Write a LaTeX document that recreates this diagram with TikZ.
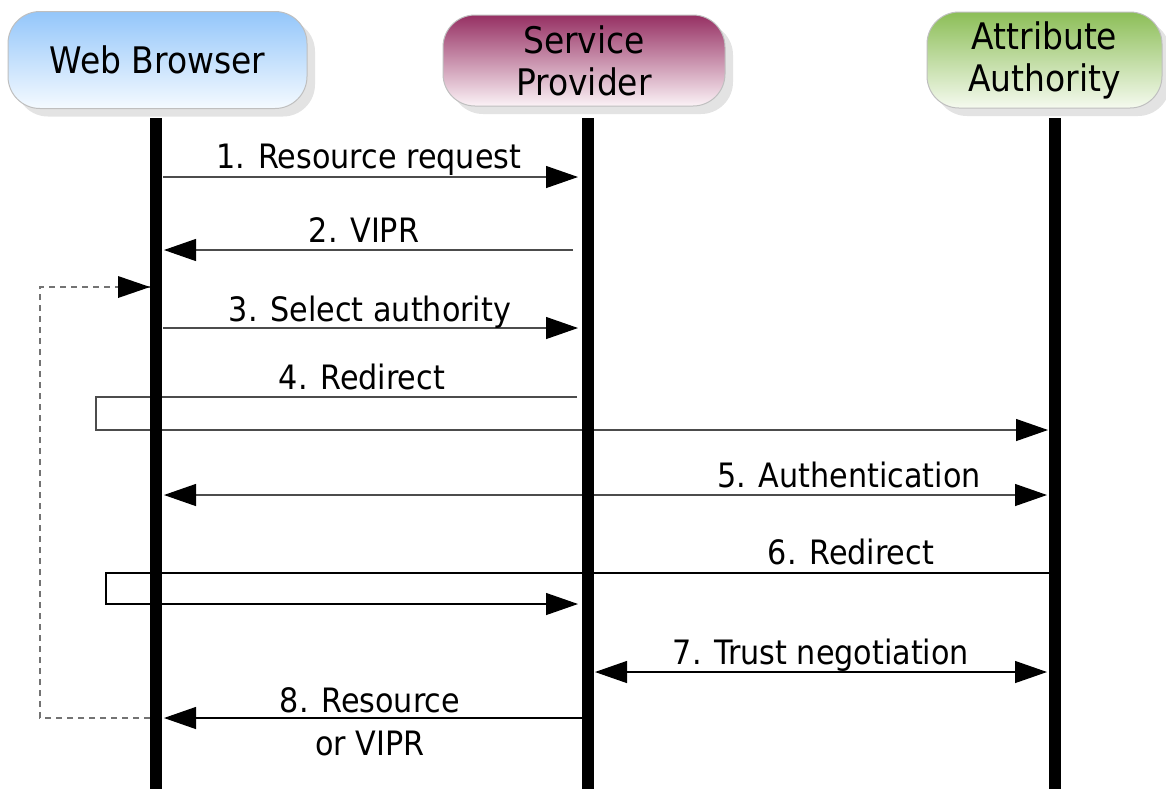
\documentclass[tikz,border=0pt]{standalone}
\usepackage{fontspec}
\setmainfont{DejaVu Sans Condensed}
\usetikzlibrary{arrows.meta,shadows}

\definecolor{wbtop}{HTML}{93C6FA}
\definecolor{wbbot}{HTML}{F5FAFF}
\definecolor{sptop}{HTML}{963063}
\definecolor{spbot}{HTML}{FBF2F6}
\definecolor{aatop}{HTML}{8CBE57}
\definecolor{aabot}{HTML}{F5FAEF}

\tikzset{
  actor/.style={rounded corners=16pt, draw=black!25, line width=0.5pt, align=center,
    font=\fontsize{18.3}{21}\selectfont,
    drop shadow={shadow xshift=4pt, shadow yshift=-4pt, fill=black!11, opacity=1}},
  lifeline/.style={line width=6pt},
  msg/.style={draw=black!70, line width=0.6pt, -{Triangle[length=16pt,width=11pt,color=black]}},
  twoway/.style={draw=black!70, line width=0.6pt, {Triangle[length=16pt,width=11pt,color=black]}-{Triangle[length=16pt,width=11pt,color=black]}},
  loopback/.style={draw=black!55, line width=0.6pt, dash pattern=on 3pt off 2.5pt},
  lbl/.style={anchor=base, inner sep=0pt, font=\fontsize{16.8}{21.5}\selectfont}
}

\begin{document}
\begin{tikzpicture}[x=0.5pt, y=-0.5pt]
\useasboundingbox (0,0) rectangle (1166,789);

% participants
\node[actor, top color=wbtop, bottom color=wbbot, minimum width=149.5pt, minimum height=48.5pt] (wb) at (157.5,60) {Web Browser};
\node[actor, top color=sptop, bottom color=spbot, minimum width=141pt, minimum height=45.5pt] (sp) at (584,60.5) {Service\\Provider};
\node[actor, top color=aatop, bottom color=aabot, minimum width=117.5pt, minimum height=48pt] (aa) at (1044.5,60) {Attribute\\Authority};

% lifeline ends
\coordinate (wbtop) at (156,118);
\coordinate (wbbot) at (156,789);
\coordinate (sptop) at (588,118);
\coordinate (spbot) at (588,789);
\coordinate (aatop) at (1055,118);
\coordinate (aabot) at (1055,789);

% message end points
\coordinate (m1a) at (163,177);  \coordinate (m1b) at (578,177);
\coordinate (m2a) at (573,250);  \coordinate (m2b) at (164,250);
\coordinate (m3a) at (163,328);  \coordinate (m3b) at (578,328);
\coordinate (m4a) at (577,397);  \coordinate (m4b) at (96,397);
\coordinate (m4c) at (96,430);   \coordinate (m4d) at (1048,430);
\coordinate (m5a) at (164,495);  \coordinate (m5b) at (1047,495);
\coordinate (m6a) at (1049,573); \coordinate (m6b) at (106,573);
\coordinate (m6c) at (106,604);  \coordinate (m6d) at (578,604);
\coordinate (m7a) at (595,672);  \coordinate (m7b) at (1047,672);
\coordinate (m8a) at (583,718);  \coordinate (m8b) at (164,718);
\coordinate (bk1) at (150,718);  \coordinate (bk2) at (40,718);
\coordinate (bk3) at (40,287);   \coordinate (bk4) at (150,287);

% messages
\draw[msg] (m1a) -- (m1b);
\draw[msg] (m2a) -- (m2b);
\draw[msg] (m3a) -- (m3b);
\draw[msg] (m4a) -- (m4b) -- (m4c) -- (m4d);
\draw[twoway] (m5a) -- (m5b);
\draw[msg, draw=black] (m6a) -- (m6b) -- (m6c) -- (m6d);
\draw[twoway, draw=black] (m7a) -- (m7b);
\draw[msg, draw=black] (m8a) -- (m8b);
\draw[loopback] (bk1) -- (bk2) -- (bk3) -- (bk4);
\fill (bk4) -- ++(-32,-11) -- ++(0,22) -- cycle;

% labels
\node[lbl] (l1) at (369,168) {1. Resource request};
\node[lbl] (l2) at (364,242) {2. VIPR};
\node[lbl] (l3) at (370,321) {3. Select authority};
\node[lbl] (l4) at (362,389) {4. Redirect};
\node[lbl] (l5) at (849,487) {5. Authentication};
\node[lbl] (l6) at (851,564) {6. Redirect};
\node[lbl] (l7) at (821,664) {7. Trust negotiation};
\node[lbl, anchor=center, align=center] (l8) at (370,722) {8. Resource\\or VIPR};

% lifelines
\draw[lifeline] (wbtop) -- (wbbot);
\draw[lifeline] (sptop) -- (spbot);
\draw[lifeline] (aatop) -- (aabot);
\end{tikzpicture}
\end{document}
